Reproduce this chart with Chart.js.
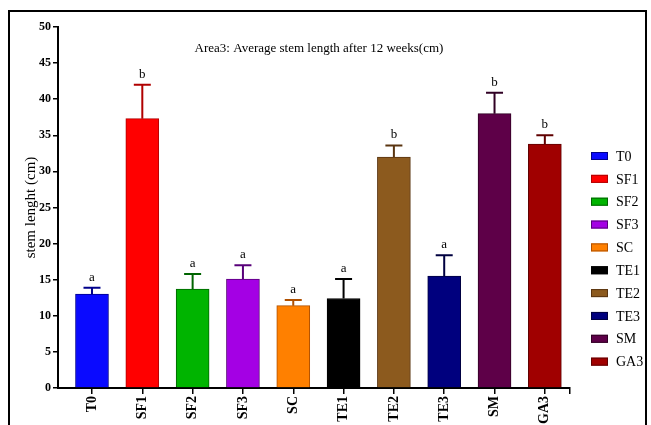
<!DOCTYPE html>
<html>
<head>
<meta charset="utf-8">
<script src="https://cdn.jsdelivr.net/npm/chart.js@4/dist/chart.umd.min.js"></script>
<style>
  body { margin: 0; background: #fff; overflow: hidden; }
  #wrap { position: relative; width: 651px; height: 425px; }
  #frame { position: absolute; left: 8px; top: 10px; width: 639px; height: 430px;
           border: 2px solid #000; box-sizing: border-box; pointer-events: none; }
</style>
</head>
<body>
<div id="wrap">
  <canvas id="chart" width="651" height="425"></canvas>
  <div id="frame"></div>
</div>
<script>
// data
const categories = ["T0", "SF1", "SF2", "SF3", "SC", "TE1", "TE2", "TE3", "SM", "GA3"];
const means = [13.0, 37.3, 13.7, 15.1, 11.4, 12.4, 32.0, 15.5, 38.0, 33.8];
const errors = [0.9, 4.7, 2.1, 1.9, 0.8, 2.7, 1.6, 2.9, 2.9, 1.2];
const letters = ["a", "b", "a", "a", "a", "a", "b", "a", "b", "b"];
const yTicks = [0, 5, 10, 15, 20, 25, 30, 35, 40, 45, 50];

const fillColors = ["#0a0aff", "#ff0000", "#00b400", "#a400e4", "#ff8000",
                    "#000000", "#8c5a1e", "#00007e", "#5e0048", "#a00000"];
const edgeColors = ["#00008b", "#b00000", "#006400", "#58007a", "#b05000",
                    "#000000", "#5a3510", "#000040", "#300024", "#600000"];

const serif = "'Liberation Serif', 'Times New Roman', serif";

// error bars + significance letters
const errorBars = {
  id: "errorBars",
  afterDatasetsDraw(chart) {
    const { ctx, scales: { x, y } } = chart;
    ctx.save();
    means.forEach((m, i) => {
      const cx = x.getPixelForValue(i);
      const top = y.getPixelForValue(m);
      const hi = y.getPixelForValue(m + errors[i]);
      ctx.strokeStyle = edgeColors[i];
      ctx.lineWidth = 2;
      ctx.beginPath();
      ctx.moveTo(cx, top);
      ctx.lineTo(cx, hi);
      ctx.moveTo(cx - 8.5, hi);
      ctx.lineTo(cx + 8.5, hi);
      ctx.stroke();
      ctx.fillStyle = "#000";
      ctx.font = "13px " + serif;
      ctx.textAlign = "center";
      ctx.textBaseline = "bottom";
      ctx.fillText(letters[i], cx, hi - 4);
    });
    ctx.restore();
  }
};

// title inside the plot + legend on the right
const extras = {
  id: "extras",
  afterDraw(chart) {
    const { ctx, chartArea } = chart;
    ctx.save();
    ctx.fillStyle = "#000";
    ctx.font = "13px " + serif;
    ctx.textAlign = "center";
    ctx.textBaseline = "middle";
    ctx.fillText("Area3: Average stem length after 12 weeks(cm)", (chartArea.left + chartArea.right) / 2 + 5, chartArea.top + 22);

    ctx.font = "14px " + serif;
    ctx.textAlign = "left";
    categories.forEach((c, i) => {
      const yy = 156 + i * 22.85;
      ctx.fillStyle = fillColors[i];
      ctx.fillRect(591, yy - 4, 17, 8);
      ctx.strokeStyle = edgeColors[i];
      ctx.lineWidth = 1;
      ctx.strokeRect(591.5, yy - 3.5, 16, 7);
      ctx.fillStyle = "#000";
      ctx.fillText(c, 616, yy + 1);
    });
    ctx.restore();
  }
};

new Chart(document.getElementById("chart"), {
  type: "bar",
  data: {
    datasets: [{
      data: means.map((v, i) => ({ x: i, y: v })),
      backgroundColor: fillColors,
      borderColor: edgeColors,
      borderWidth: 1,
      borderSkipped: "bottom",
      barThickness: 33
    }]
  },
  options: {
    responsive: false,
    animation: false,
    layout: { padding: { left: 22, top: 27, right: 81, bottom: 0 } },
    plugins: {
      legend: { display: false },
      tooltip: { enabled: false }
    },
    scales: {
      x: {
        type: "linear",
        offset: false,
        min: -0.6755,
        max: 9.5,
        afterBuildTicks: (scale) => {
          scale.ticks = categories.map((c, i) => ({ value: i })).concat([{ value: 9.5 }]);
        },
        afterFit: (scale) => { scale.height = 37; },
        grid: { offset: false, drawOnChartArea: false, drawTicks: true, tickLength: 6, color: "#000", lineWidth: 1.5 },
        border: { display: true, color: "#000", width: 2 },
        ticks: {
          autoSkip: false,
          minRotation: 90,
          maxRotation: 90,
          padding: 2,
          color: "#000",
          font: { family: serif, size: 14, weight: "bold" },
          callback: (value) => categories[value] ?? ""
        }
      },
      y: {
        min: 0,
        max: 50,
        afterBuildTicks: (scale) => {
          scale.ticks = yTicks.map((v) => ({ value: v }));
        },
        afterFit: (scale) => { scale.width = 36; },
        grid: { drawOnChartArea: false, drawTicks: true, tickLength: 5, color: "#000", lineWidth: 1.5 },
        border: { display: true, color: "#000", width: 2 },
        ticks: {
          padding: 2,
          color: "#000",
          font: { family: serif, size: 12, weight: "bold" }
        },
        title: {
          display: true,
          text: "stem lenght (cm)",
          color: "#000",
          padding: 0,
          font: { family: serif, size: 15 }
        }
      }
    }
  },
  plugins: [errorBars, extras]
});
</script>
</body>
</html>
